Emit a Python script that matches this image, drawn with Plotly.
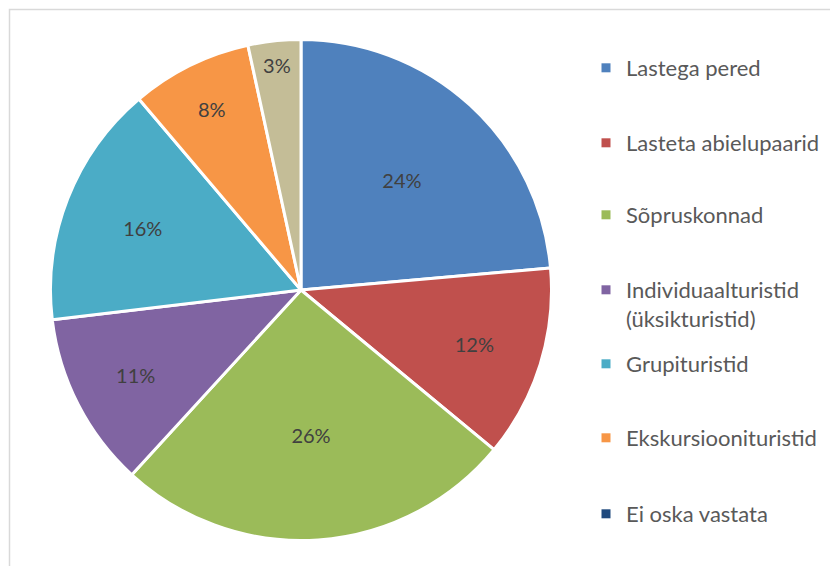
import plotly.graph_objects as go

categories = ["Lastega pered", "Lasteta abielupaarid", "Sõpruskonnad",
              "Individuaalturistid<br>(üksikturistid)", "Grupituristid",
              "Ekskursioonituristid", "Ei oska vastata"]
values = [23.6, 12.4, 25.8, 11.3, 15.7, 7.8, 3.4]
slice_colors = ["#4F81BD", "#C0504D", "#9BBB59", "#8064A2", "#4BACC6", "#F79646", "#C4BD97"]
legend_colors = ["#4F81BD", "#C0504D", "#9BBB59", "#8064A2", "#4BACC6", "#F79646", "#1F497D"]

W, H = 838, 566
FONT = "Lato"
OFF = 8  # page body margin

cx, cy, r = 301 - OFF, 290 - OFF, 250.5

fig = go.Figure()
fig.add_trace(go.Pie(
    labels=categories, values=values, sort=False, direction="clockwise",
    marker=dict(colors=slice_colors, line=dict(color="white", width=3)),
    texttemplate="%{percent:.0%}", textposition="inside",
    insidetextorientation="horizontal",
    textfont=dict(family=FONT, size=20, color="#404040"),
    showlegend=False, hoverinfo="label+percent",
    domain=dict(x=[(cx - r) / W, (cx + r) / W],
                y=[(H - cy - r) / H, (H - cy + r) / H]),
))

legend_tops = [39, 114, 186, 261, 335, 409, 485]
layout_legends = {}
for i, (name, col) in enumerate(zip(categories, legend_colors)):
    key = "legend" if i == 0 else f"legend{i+1}"
    fig.add_trace(go.Scatter(
        x=[None], y=[None], mode="markers", name=name,
        marker=dict(symbol="square", size=9, color=col),
        legend=key, showlegend=True,
    ))
    layout_legends[key] = dict(
        x=(586 - OFF) / W, xanchor="left", y=1 - legend_tops[i] / H, yanchor="top",
        valign="top", bgcolor="rgba(0,0,0,0)",
        font=dict(family=FONT, size=22, color="#595959"),
    )

fig.update_layout(
    width=W, height=H, margin=dict(l=0, r=0, t=0, b=0),
    paper_bgcolor="white", plot_bgcolor="white",
    xaxis=dict(visible=False), yaxis=dict(visible=False),
    shapes=[dict(type="rect", xref="paper", yref="paper",
                 x0=1.5 / W, x1=1.02, y0=-0.02, y1=1 - 1.5 / H,
                 line=dict(color="#D9D9D9", width=1.5))],
    **layout_legends,
)

fig.write_html("out.html")
